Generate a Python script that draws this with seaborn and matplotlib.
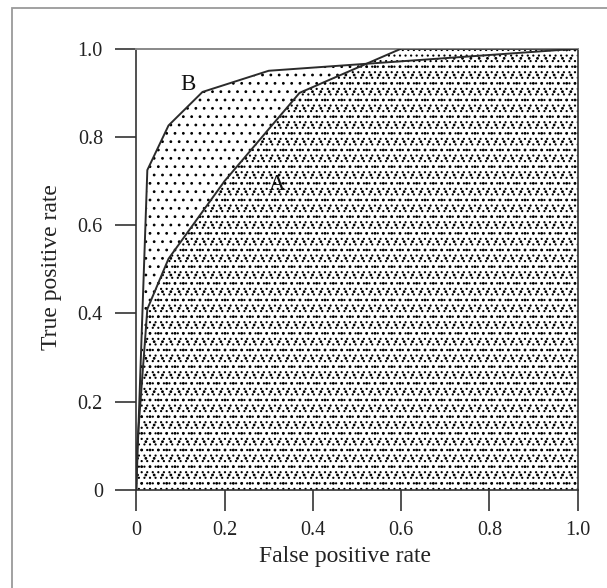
import matplotlib
matplotlib.use("Agg")
import matplotlib.pyplot as plt
from matplotlib.patches import Rectangle
import seaborn as sns
import pandas as pd

# ROC curve vertices (false positive rate, true positive rate)
fpr_a = [0.0, 0.002, 0.025, 0.073, 0.20, 0.37, 0.60, 1.0]
tpr_a = [0.0, 0.10, 0.41, 0.524, 0.70, 0.90, 1.0, 1.0]
fpr_b = [0.0, 0.025, 0.073, 0.15, 0.30, 1.0]
tpr_b = [0.0, 0.725, 0.826, 0.902, 0.95, 1.0]

tick_values = [0.0, 0.2, 0.4, 0.6, 0.8, 1.0]
tick_labels = ["0", "0.2", "0.4", "0.6", "0.8", "1.0"]

curve_a = pd.DataFrame({"fpr": fpr_a, "tpr": tpr_a})
curve_b = pd.DataFrame({"fpr": fpr_b, "tpr": tpr_b})

sns.set_theme(style="ticks")
plt.rcParams["font.family"] = ["Liberation Serif", "DejaVu Serif"]
plt.rcParams["hatch.linewidth"] = 0.8

fig = plt.figure(figsize=(6.07, 5.88), dpi=100)
ax = fig.add_axes([136.3 / 607, 98 / 588, 441.3 / 607, 441.3 / 588])

# dotted shading beneath each curve; overlapping hatches give the denser texture
ax.fill_between(curve_b["fpr"], curve_b["tpr"], 0, facecolor="none",
                edgecolor="black", linewidth=0, hatch="..", zorder=1)
ax.fill_between(curve_a["fpr"], curve_a["tpr"], 0, facecolor="none",
                edgecolor="black", linewidth=0, hatch="...", zorder=1)

line_kw = dict(color="#2b2b2b", linewidth=1.4, sort=False, estimator=None,
               legend=False, zorder=3)
sns.lineplot(data=curve_a, x="fpr", y="tpr", ax=ax, **line_kw)
sns.lineplot(data=curve_b, x="fpr", y="tpr", ax=ax, **line_kw)

ax.text(0.117, 0.92, "B", fontsize=16.5, ha="center", va="center", color="#111")
ax.text(0.32, 0.693, "A", fontsize=16.5, ha="center", va="center", color="#111")

ax.set_xlim(0, 1)
ax.set_ylim(0, 1)
ax.set_xticks(tick_values)
ax.set_xticklabels(tick_labels)
ax.set_yticks(tick_values)
ax.set_yticklabels(tick_labels)
ax.tick_params(axis="both", direction="out", length=15, width=1.1,
               color="#222", labelsize=14.5, labelcolor="#222")
ax.tick_params(axis="y", pad=9)
ax.tick_params(axis="x", pad=7)

for side in ["left", "bottom", "right"]:
    ax.spines[side].set_color("#333")
    ax.spines[side].set_linewidth(1.2)
ax.spines["top"].set_color("#888")
ax.spines["top"].set_linewidth(1.4)

ax.set_xlabel("False positive rate", fontsize=17, color="#222")
ax.set_ylabel("True positive rate", fontsize=17, color="#222")
ax.xaxis.set_label_coords(0.474, -0.128)
ax.yaxis.set_label_coords(-0.168, 0.505)

# open frame around the figure (only its left and top edges fall inside)
fig.patches.append(Rectangle((11.5 / 607, -0.5), 1.5, 1.5 - 7.5 / 588,
                             transform=fig.transFigure, fill=False,
                             edgecolor="#9a9a9a", linewidth=1.3))

fig.savefig("out.png", dpi=100, facecolor="white")
